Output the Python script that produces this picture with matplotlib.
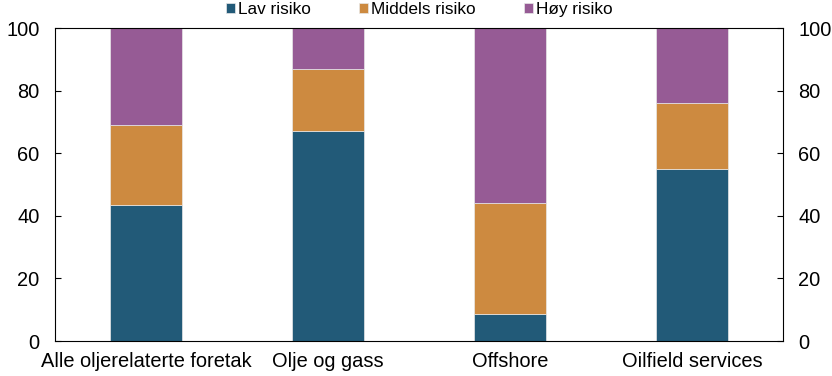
import matplotlib.pyplot as plt
import numpy as np

plt.rcParams["font.family"] = ["Liberation Sans", "DejaVu Sans"]

# Andel foretak etter risikogruppe (prosent)
categories = ["Alle oljerelaterte foretak", "Olje og gass", "Offshore", "Oilfield services"]
lav = [43.5, 67.0, 8.8, 55.0]
middels = [25.7, 20.1, 35.2, 21.0]
hoy = [30.8, 12.9, 56.0, 24.0]

colors = ["#225a78", "#cd8a40", "#965b95"]
labels = ["Lav risiko", "Middels risiko", "Høy risiko"]

x = np.arange(len(categories))
width = 0.4

fig, ax = plt.subplots(figsize=(8.32, 3.76), dpi=100)
fig.subplots_adjust(left=0.066, right=0.941, top=0.925, bottom=0.093)

bottom = np.zeros(len(categories))
for vals, c, lab in zip([lav, middels, hoy], colors, labels):
    ax.bar(x, vals, width, bottom=bottom, color=c, label=lab,
           edgecolor="#e8e8e8", linewidth=0.5)
    bottom += np.array(vals)

ax.set_xlim(-0.5, 3.5)
ax.set_ylim(0, 100)
ax.set_yticks(range(0, 101, 20))
ax.set_xticks(x)
ax.set_xticklabels(categories, fontsize=14.4)
ax.tick_params(axis="y", direction="in", labelsize=14.4, length=4, pad=11,
               right=True, labelright=True)
ax.tick_params(axis="x", length=0, pad=8)

ax.legend(loc="center", bbox_to_anchor=(0.5, 1.06), ncol=3, frameon=False,
          fontsize=12.4, handlelength=0.55, handleheight=0.55, handletextpad=0.15,
          columnspacing=2.8, borderaxespad=0)

plt.savefig("out.png")
